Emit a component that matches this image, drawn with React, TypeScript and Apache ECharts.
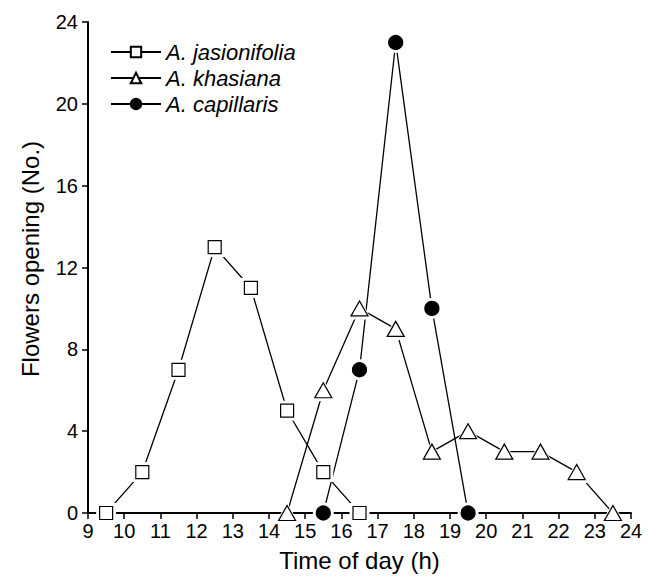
import React, { useEffect, useRef } from "react";
import * as echarts from "echarts";

const jasHours = [9.5, 10.5, 11.5, 12.5, 13.5, 14.5, 15.5, 16.5];
const jasValues = [0, 2, 7, 13, 11, 5, 2, 0];
const khaHours = [14.5, 15.5, 16.5, 17.5, 18.5, 19.5, 20.5, 21.5, 22.5, 23.5];
const khaValues = [0, 6, 10, 9, 3, 4, 3, 3, 2, 0];
const capHours = [15.5, 16.5, 17.5, 18.5, 19.5];
const capValues = [0, 7, 23, 10, 0];
const seriesNames = ["A. jasionifolia", "A. khasiana", "A. capillaris"];

const FONT = "Liberation Sans, Arial, sans-serif";

export default function App() {
  const ref = useRef<HTMLDivElement>(null);
  useEffect(() => {
    if (!ref.current) return;
    const chart = echarts.init(ref.current, undefined, { renderer: "svg" });
    const pair = (xs: number[], ys: number[]) => xs.map((x, i) => [x, ys[i]]);
    const defs = [
      { name: seriesNames[0], data: pair(jasHours, jasValues), symbol: "rect", size: [13, 13], fill: "#fff" },
      { name: seriesNames[1], data: pair(khaHours, khaValues), symbol: "triangle", size: [17, 15], fill: "#fff" },
      { name: seriesNames[2], data: pair(capHours, capValues), symbol: "circle", size: [14, 14], fill: "#000" },
    ];
    const series: any[] = [];
    defs.forEach((d) => {
      series.push({
        type: "line",
        name: d.name,
        data: d.data,
        symbol: d.symbol,
        symbolSize: d.size,
        lineStyle: { color: "#000", width: 1.3 },
        itemStyle: { color: d.fill, borderColor: "#000", borderWidth: 1.2 },
        clip: false,
        z: 2,
      });
    });
    defs.forEach((d) => {
      series.push({
        type: "scatter",
        name: d.name + " halo",
        data: d.data,
        symbol: d.symbol,
        symbolSize: [d.size[0] + 7, d.size[1] + 7],
        itemStyle: { color: "#fff", borderWidth: 0, opacity: 1 },
        silent: true,
        clip: false,
        z: 3,
      });
    });
    defs.forEach((d) => {
      series.push({
        type: "scatter",
        name: d.name + " mark",
        data: d.data,
        symbol: d.symbol,
        symbolSize: d.size,
        itemStyle: { color: d.fill, borderColor: "#000", borderWidth: 1.2, opacity: 1 },
        silent: true,
        clip: false,
        z: 4,
      });
    });
    chart.setOption({
      animation: false,
      backgroundColor: "#fff",
      textStyle: { fontFamily: FONT },
      grid: { left: 88, right: 19, top: 22, bottom: 61, containLabel: false },
      legend: {
        left: 105,
        top: 36,
        orient: "vertical",
        itemWidth: 50,
        itemHeight: 13,
        itemGap: 4,
        textStyle: { fontFamily: FONT, fontStyle: "italic", fontSize: 22, color: "#000" },
        data: seriesNames,
      },
      xAxis: {
        type: "value",
        min: 9,
        max: 24,
        interval: 1,
        name: "Time of day (h)",
        nameLocation: "middle",
        nameGap: 35,
        nameTextStyle: { fontSize: 24, color: "#000", fontFamily: FONT },
        axisLine: { lineStyle: { color: "#000", width: 2 } },
        axisTick: { inside: false, length: 6, lineStyle: { color: "#000", width: 1.5 } },
        axisLabel: { fontSize: 20, color: "#000", margin: 8, fontFamily: FONT },
        splitLine: { show: false },
      },
      yAxis: {
        type: "value",
        min: 0,
        max: 24,
        interval: 4,
        name: "Flowers opening (No.)",
        nameLocation: "middle",
        nameGap: 46,
        nameTextStyle: { fontSize: 24, color: "#000", fontFamily: FONT, padding: [0, 0, 0, 17] },
        axisLine: { show: true, lineStyle: { color: "#000", width: 2 } },
        axisTick: { show: true, inside: false, length: 6, lineStyle: { color: "#000", width: 1.5 } },
        axisLabel: { fontSize: 20, color: "#000", margin: 10, fontFamily: FONT },
        splitLine: { show: false },
      },
      series,
    });
    return () => chart.dispose();
  }, []);
  return <div ref={ref} style={{ width: 650, height: 577, position: "absolute", left: 0, top: 0 }} />;
}
